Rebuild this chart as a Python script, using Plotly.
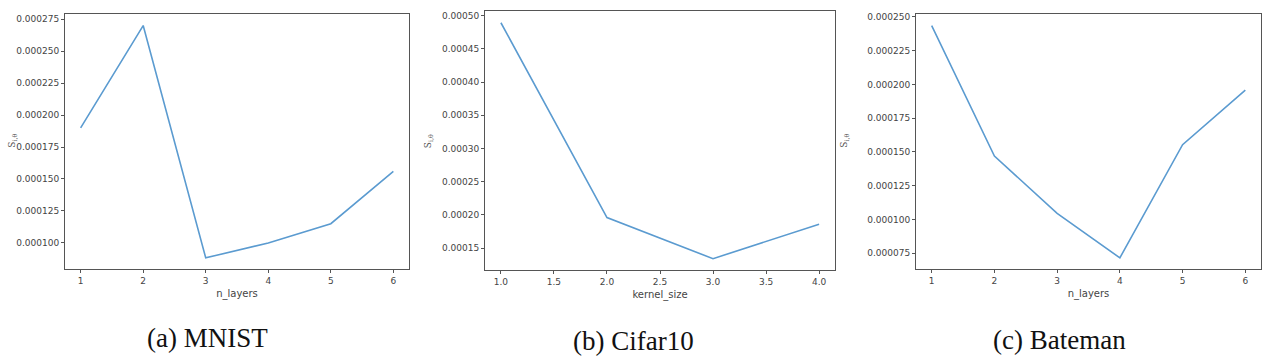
import plotly.graph_objects as go

W, H = 1272, 357

# Data
mnist_x = [1, 2, 3, 4, 5, 6]
mnist_y = [0.000190, 0.000270, 0.0000883, 0.000100, 0.000115, 0.000156]
cifar_x = [1.0, 2.0, 3.0, 4.0]
cifar_y = [0.0004895, 0.000196, 0.000134, 0.000186]
bateman_x = [1, 2, 3, 4, 5, 6]
bateman_y = [0.0002436, 0.000147, 0.0001046, 0.0000716, 0.0001554, 0.0001958]

x_titles = ["n_layers", "kernel_size", "n_layers"]
captions = ["(a) MNIST", "(b) Cifar10", "(c) Bateman"]
y_title = "S<sub>i,θ</sub>"

# layout pixels (left, right, top, bottom)
panels = [(65, 409, 12, 269), (485, 835, 9, 270), (916, 1261, 12, 269)]
caption_pos = [(207, 338), (633, 341), (1059, 340)]
ylabel_x = [5, 428, 852]

series = [(mnist_x, mnist_y), (cifar_x, cifar_y), (bateman_x, bateman_y)]
yfmt = [".6f", ".5f", ".6f"]
ydt = [0.000025, 0.00005, 0.000025]
xdt = [1, 0.5, 1]
xfmt = ["d", ".1f", "d"]

fig = go.Figure()
line_color = "#5b9bd0"
axcol = "#555555"
tickfont = dict(family="DejaVu Sans", size=9, color="#444444")

anns = []
for i, ((xs, ys), (l, r, t, b)) in enumerate(zip(series, panels)):
    n = "" if i == 0 else str(i + 1)
    fig.add_trace(go.Scatter(x=xs, y=ys, mode="lines",
                             line=dict(color=line_color, width=1.6),
                             xaxis="x" + n, yaxis="y" + n, showlegend=False))
    xr = max(xs) - min(xs)
    yr = max(ys) - min(ys)
    fig.update_layout(**{
        "xaxis" + n: dict(domain=[l / W, r / W], anchor="y" + n,
                          range=[min(xs) - 0.05 * xr, max(xs) + 0.05 * xr],
                          showline=True, linecolor=axcol, linewidth=1, mirror=True,
                          ticks="outside", ticklen=3, tickcolor=axcol,
                          dtick=xdt[i], tick0=0, tickformat=xfmt[i],
                          showgrid=False, zeroline=False, tickfont=tickfont,
                          title=dict(text=x_titles[i], font=dict(family="DejaVu Sans", size=10, color="#444444"), standoff=4)),
        "yaxis" + n: dict(domain=[1 - b / H, 1 - t / H], anchor="x" + n,
                          range=[min(ys) - 0.05 * yr, max(ys) + 0.05 * yr],
                          showline=True, linecolor=axcol, linewidth=1, mirror=True,
                          ticks="outside", ticklen=3, tickcolor=axcol,
                          dtick=ydt[i], tick0=0, tickformat=yfmt[i],
                          showgrid=False, zeroline=False, tickfont=tickfont),
    })
    anns.append(dict(text=y_title, x=ylabel_x[i] / W, y=1 - 140 / H, xref="paper", yref="paper",
                     textangle=-90, showarrow=False, font=dict(family="DejaVu Serif", size=9, color="#555555")))
    cx, cy = caption_pos[i]
    anns.append(dict(text=captions[i], x=cx / W, y=1 - cy / H, xref="paper", yref="paper",
                     xanchor="center", yanchor="middle",
                     showarrow=False, font=dict(family="Liberation Serif", size=27, color="#111111")))

fig.update_layout(width=W, height=H, margin=dict(l=0, r=0, t=0, b=0),
                  paper_bgcolor="white", plot_bgcolor="white", annotations=anns)

fig.write_html("out.html")
